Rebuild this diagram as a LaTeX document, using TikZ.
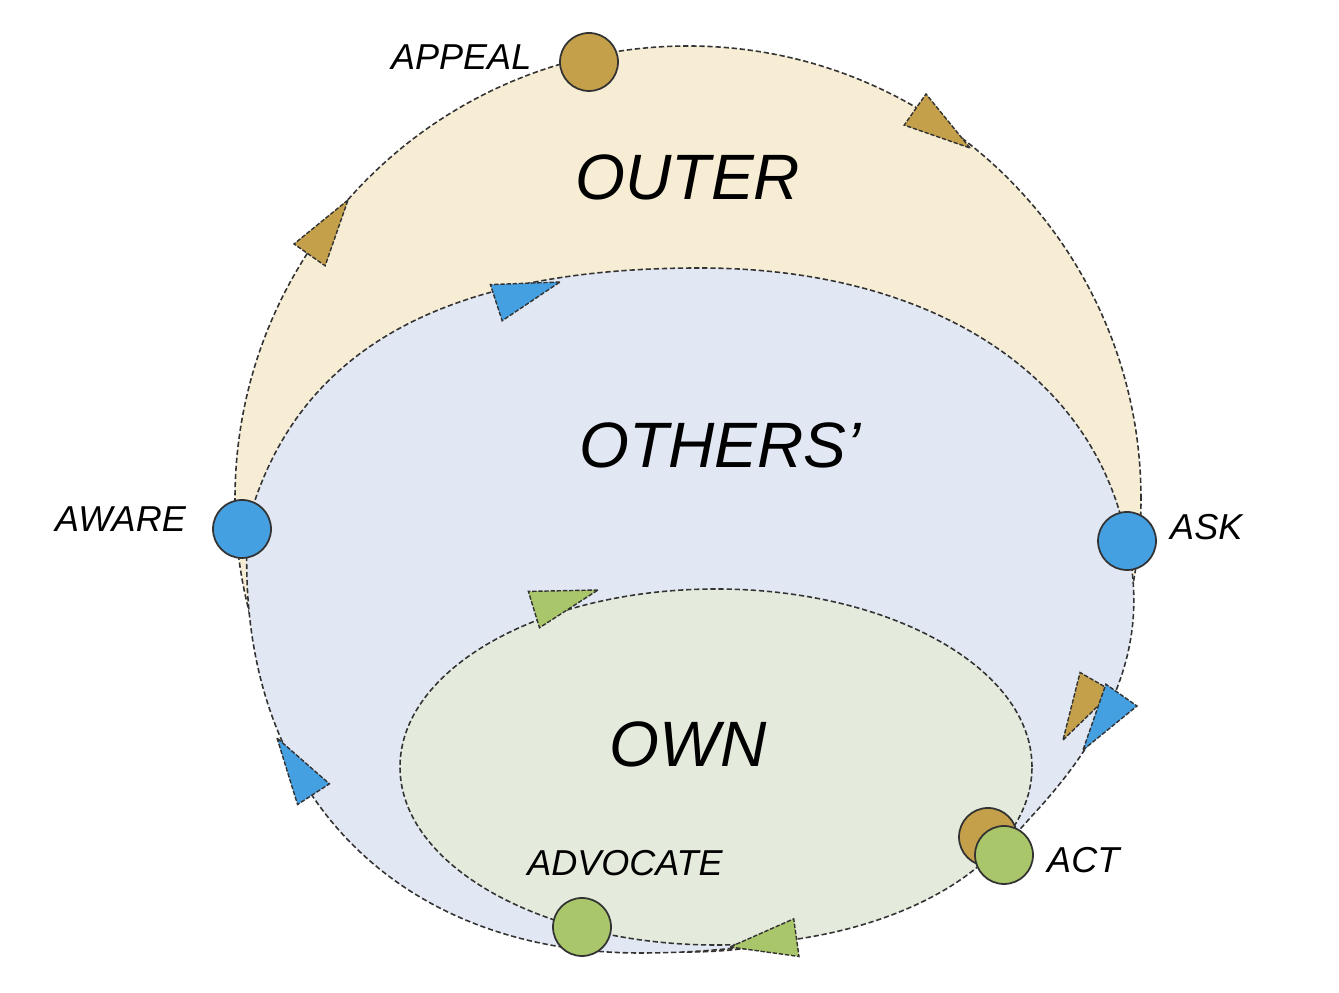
\documentclass[tikz,border=0pt]{standalone}
\usepackage{fontspec}
\setmainfont{Liberation Sans}
\usepackage{xcolor}
\definecolor{outerfill}{HTML}{F6EDD4}
\definecolor{othersfill}{HTML}{E2E8F3}
\definecolor{ownfill}{HTML}{E4EADC}
\definecolor{gold}{HTML}{C5A04B}
\definecolor{sky}{HTML}{45A0E1}
\definecolor{leaf}{HTML}{A9C76A}
\definecolor{edge}{HTML}{333333}
\usepackage{tikz}
\usetikzlibrary{positioning}

% arrow triangle: tip x, tip y, direction, colour
\newcommand{\flowtip}[4]{%
  \filldraw[tipline, fill=#4, shift={(#1,#2)}, rotate=#3] (0,0) -- (-67,19) -- (-67,-19) -- cycle;}

\begin{document}
\begin{tikzpicture}[
  x=0.02cm, y=0.02cm,
  ring/.style={draw=edge, line width=0.9pt, dash pattern=on 3pt off 1.6pt},
  tipline/.style={draw=edge, line width=0.8pt, dash pattern=on 2.5pt off 1pt},
  spot/.style={circle, draw=edge, line width=1pt, minimum size=1.16cm, inner sep=0pt},
  tag/.style={font=\fontsize{20.5}{24}\selectfont\itshape, inner sep=0pt},
  zone/.style={font=\fontsize{36.5}{42}\selectfont\itshape, inner sep=0pt},
]
\useasboundingbox (0,0) rectangle (1339,993);

% outer loop
\filldraw[ring, fill=outerfill] (688,494) circle [radius=453];
% others' loop
\filldraw[ring, fill=othersfill] (248,470) .. controls (300,660) and (470,725) .. (700,725)
  .. controls (930,725) and (1090,620) .. (1125,460)
  .. controls (1145,380) and (1138,290) .. (1030,175)
  .. controls (950,80) and (800,40) .. (640,40)
  .. controls (400,40) and (230,200) .. (248,470) -- cycle;
% own loop
\filldraw[ring, fill=ownfill] (716,226) ellipse [x radius=316, y radius=178];

\node[zone] (outer) at (688,816) {OUTER};
\node[zone] (others) at (720,548) {OTHERS’};
\node[zone] (own) at (688,249) {OWN};

% direction marks
\flowtip{970}{845}{-35}{gold}
\flowtip{348}{793}{55}{gold}
\flowtip{1063}{253}{240}{gold}
\flowtip{560}{711}{18}{sky}
\flowtip{277}{255}{123}{sky}
\flowtip{1083}{243}{235}{sky}
\flowtip{598}{403}{17}{leaf}
\flowtip{730}{46}{188}{leaf}

\node[spot, fill=gold] (appeal) at (589,931) {};
\node[spot, fill=sky] (aware) at (242,464) {};
\node[spot, fill=sky] (ask) at (1127,452) {};
\node[spot, fill=leaf] (advocate) at (582,66) {};
\node[spot, fill=gold] (actgold) at (988,156) {};
\node[spot, fill=leaf] (act) at (1004,138) {};

\node[tag, left=0.55cm of appeal, yshift=0.1cm] (appealtag) {APPEAL};
\node[tag, left=0.52cm of aware, yshift=0.2cm] (awaretag) {AWARE};
\node[tag, right=0.26cm of ask, yshift=0.28cm] (asktag) {ASK};
\node[tag, above=0.42cm of advocate, xshift=0.86cm] (advocatetag) {ADVOCATE};
\node[tag, right=0.26cm of act, yshift=-0.1cm] (acttag) {ACT};

\end{tikzpicture}
\end{document}
